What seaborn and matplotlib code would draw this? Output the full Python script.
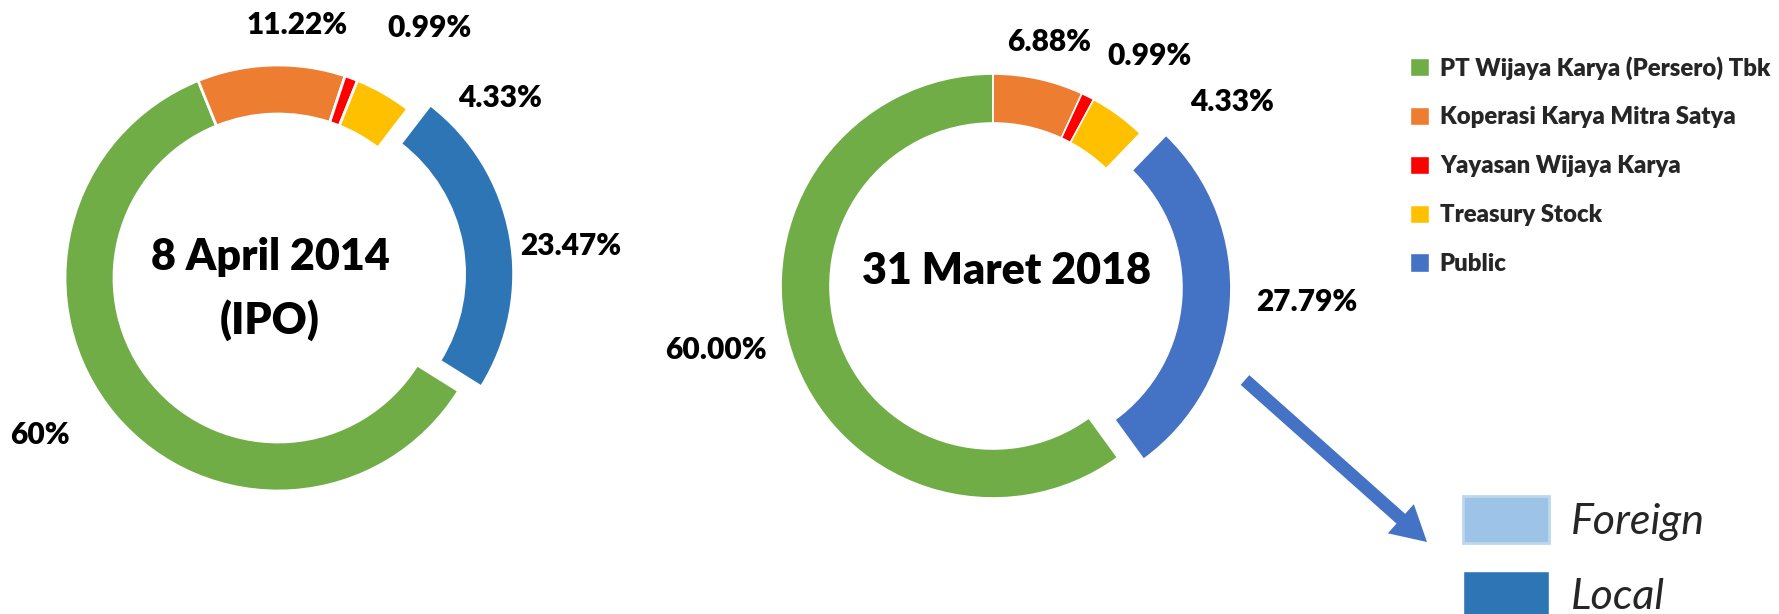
import matplotlib
matplotlib.use("Agg")
import matplotlib.pyplot as plt
from matplotlib.patches import Patch
import seaborn as sns

# Shareholder composition of WIKA Gedung, at IPO and March 2018
holders = ["PT Wijaya Karya (Persero) Tbk", "Koperasi Karya Mitra Satya",
           "Yayasan Wijaya Karya", "Treasury Stock", "Public"]
share_2014 = [60, 11.22, 0.99, 4.33, 23.47]
share_2018 = [60.00, 6.88, 0.99, 4.33, 27.79]
text_2014 = ["60%", "11.22%", "0.99%", "4.33%", "23.47%"]
text_2018 = ["60.00%", "6.88%", "0.99%", "4.33%", "27.79%"]
title_2014 = ["8 April 2014", "(IPO)"]
title_2018 = ["31 Maret 2018"]
public_split = ["Foreign", "Local"]

sns.set_theme(style="white")
plt.rcParams["font.family"] = ["Lato", "DejaVu Sans"]

W, H = 1779, 614
pal = sns.color_palette(["#70AD47", "#ED7D31", "#FF0000", "#FFC000", "#4472C4"])
pal_2014 = pal[:4] + sns.color_palette(["#2E75B6"])
split_cols = sns.color_palette(["#9DC3E6", "#2E75B6"])

fig = plt.figure(figsize=(W / 100, H / 100), dpi=100)
ax = fig.add_axes([0, 0, 1, 1])

# layout, in pixels from top-left of the picture
ring = 49
charts = [
    dict(vals=share_2014, texts=text_2014, title=title_2014, cols=pal_2014,
         c=(278, 278), R=213, start=90 - 122, lw=2, ex=23,
         lab=[(40, 435), (297, 25), (430, 28), (500, 98), (571, 246)],
         tpos=[(270, 257), (270, 320)]),
    dict(vals=share_2018, texts=text_2018, title=title_2018, cols=pal,
         c=(993, 286), R=212, start=90 - 144, lw=1.2, ex=26,
         lab=[(716, 350), (1049, 42), (1150, 56), (1232, 102), (1307, 302)],
         tpos=[(1006, 271)]),
]

for ch in charts:
    cx, cy = ch["c"]
    ax.pie(ch["vals"], colors=ch["cols"], radius=ch["R"], center=(cx, H - cy),
           startangle=ch["start"], counterclock=False,
           explode=[0, 0, 0, 0, ch["ex"]],
           wedgeprops=dict(width=ring, edgecolor="white", linewidth=ch["lw"]))
    for t, (px, py) in zip(ch["texts"], ch["lab"]):
        ax.text(px, H - py, t, ha="center", va="center", fontsize=21.5,
                fontweight="heavy", color="black")
    for t, (px, py) in zip(ch["title"], ch["tpos"]):
        ax.text(px, H - py, t, ha="center", va="center", fontsize=31,
                fontweight="heavy", color="black")

ax.set_xlim(0, W)
ax.set_ylim(0, H)
ax.set_aspect("equal")
ax.axis("off")

# arrow from the public slice to the foreign/local split
ax.arrow(1245, H - 380, 182, -162, width=13, head_width=39, head_length=35,
         length_includes_head=True, color="#4472C4", lw=0)

fig.legend(handles=[Patch(facecolor=c, label=h) for c, h in zip(pal, holders)],
           loc="upper left", bbox_to_anchor=(1410 / W, 1 - 56 / H),
           frameon=False, prop=dict(size=17.2, weight="heavy"),
           handlelength=0.8, handleheight=0.8, handletextpad=0.45,
           labelspacing=1.12, borderpad=0, borderaxespad=0)

split_handles = [Patch(facecolor=split_cols[0], edgecolor="#BDD7EE", linewidth=2, label=public_split[0]),
                 Patch(facecolor=split_cols[1], label=public_split[1])]
fig.legend(handles=split_handles, loc="upper left",
           bbox_to_anchor=(1463 / W, 1 - 496 / H), frameon=False,
           prop=dict(size=31, style="italic"), handlelength=2.0,
           handleheight=1.3, handletextpad=0.5, labelspacing=0.65,
           borderpad=0, borderaxespad=0)

fig.savefig("out.png", dpi=100)
